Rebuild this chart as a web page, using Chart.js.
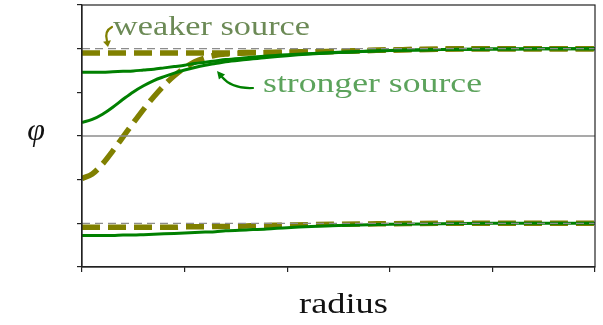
<!DOCTYPE html>
<html>
<head>
<meta charset="utf-8">
<script src="https://cdn.jsdelivr.net/npm/chart.js@4/dist/chart.umd.min.js"></script>
<style>
  html, body { margin: 0; padding: 0; background: #fff; }
  #wrap { width: 603px; height: 325px; }
</style>
</head>
<body>
<div id="wrap"><canvas id="phi" width="603" height="325"></canvas></div>
<script>
// radius samples shared by every profile
const radius = [0, 0.1, 0.2, 0.3, 0.4, 0.5, 0.6, 0.7, 0.8, 0.9, 1.0, 1.1, 1.2, 1.3, 1.4, 1.6, 1.8, 2.0, 2.5, 3.0, 3.5, 4.0, 4.5, 5.0];

// upper branch (vacuum at +2)
const weakInner = [-0.97, -0.87, -0.64, -0.34, -0.02, 0.30, 0.61, 0.90, 1.16, 1.38, 1.56, 1.70, 1.79, 1.85, 1.88, 1.90, 1.91, 1.92, 1.94, 1.97, 1.99, 2.0, 2.0, 2.0];
const weakOuter = [1.90, 1.90, 1.90, 1.90, 1.90, 1.90, 1.90, 1.90, 1.90, 1.90, 1.90, 1.90, 1.90, 1.90, 1.90, 1.91, 1.91, 1.92, 1.94, 1.97, 1.99, 2.0, 2.0, 2.0];
const strongInner = [0.31, 0.38, 0.50, 0.66, 0.84, 1.01, 1.15, 1.27, 1.36, 1.44, 1.51, 1.57, 1.62, 1.66, 1.70, 1.75, 1.80, 1.84, 1.91, 1.96, 1.98, 1.99, 2.0, 2.0];
const strongOuter = [1.46, 1.46, 1.46, 1.47, 1.48, 1.49, 1.51, 1.53, 1.56, 1.59, 1.62, 1.66, 1.69, 1.72, 1.75, 1.79, 1.83, 1.86, 1.92, 1.96, 1.98, 1.99, 2.0, 2.0];

// lower branch (vacuum at -2)
const weakLower = [-2.09, -2.09, -2.09, -2.09, -2.09, -2.09, -2.09, -2.09, -2.09, -2.09, -2.08, -2.08, -2.08, -2.07, -2.07, -2.06, -2.05, -2.04, -2.02, -2.01, -2.0, -2.0, -2.0, -2.0];
const strongLower = [-2.28, -2.28, -2.28, -2.28, -2.27, -2.27, -2.26, -2.25, -2.24, -2.23, -2.22, -2.21, -2.20, -2.19, -2.17, -2.15, -2.13, -2.10, -2.05, -2.02, -2.01, -2.0, -2.0, -2.0];

const vacua = [2, -2];
const radiusRange = [0, 5];
const phiRange = [-3, 3];

const OLIVE = '#808000';
const GREEN = '#008000';
const GREY = '#8c8c8c';

const pts = (ys) => ys.map((y, i) => ({ x: radius[i], y }));
const flat = (y) => radiusRange.map((x) => ({ x, y }));

const weakStyle = {
  borderColor: OLIVE, borderWidth: 5.5, borderDash: [18, 8],
  borderCapStyle: 'butt', order: 3
};
const strongStyle = { borderColor: GREEN, borderWidth: 3, order: 2 };

const datasets = [
  { data: flat(0), borderColor: GREY, borderWidth: 1.5, order: 1 },
  ...vacua.map((v) => ({ data: flat(v), borderColor: GREY, borderWidth: 1.3, borderDash: [8, 5], order: 1 })),
  { data: pts(weakOuter), ...weakStyle },
  { data: pts(weakInner), ...weakStyle },
  { data: pts(weakLower), ...weakStyle },
  { data: pts(strongOuter), ...strongStyle },
  { data: pts(strongInner), ...strongStyle },
  { data: pts(strongLower), ...strongStyle }
];

// draw a label stretched to a given width
function fitText(ctx, str, x, y, w, font, color) {
  ctx.save();
  ctx.font = font;
  ctx.fillStyle = color;
  ctx.textBaseline = 'alphabetic';
  const m = ctx.measureText(str).width;
  ctx.translate(x, y);
  ctx.scale(w / m, 1);
  ctx.fillText(str, 0, 0);
  ctx.restore();
}

function arrow(ctx, p0, c, p1, tip, color) {
  ctx.save();
  ctx.strokeStyle = color;
  ctx.fillStyle = color;
  ctx.lineWidth = 2.2;
  ctx.lineCap = 'round';
  ctx.beginPath();
  ctx.moveTo(p0[0], p0[1]);
  ctx.quadraticCurveTo(c[0], c[1], p1[0], p1[1]);
  ctx.stroke();
  const a = Math.atan2(tip[1] - p1[1], tip[0] - p1[0]);
  const s = 4;
  ctx.beginPath();
  ctx.moveTo(tip[0], tip[1]);
  ctx.lineTo(p1[0] - Math.sin(a) * s, p1[1] + Math.cos(a) * s);
  ctx.lineTo(p1[0] + Math.sin(a) * s, p1[1] - Math.cos(a) * s);
  ctx.closePath();
  ctx.fill();
  ctx.restore();
}

const annotations = {
  id: 'annotations',
  afterDraw(chart) {
    const { ctx, chartArea: a } = chart;
    // closing frame on top / right
    ctx.save();
    ctx.strokeStyle = '#222';
    ctx.lineWidth = 1.2;
    ctx.strokeRect(a.left, a.top, a.right - a.left, a.bottom - a.top);
    ctx.restore();

    const serif = '"Liberation Serif", "DejaVu Serif", serif';
    fitText(ctx, 'weaker source', 113, 35, 197, '27px ' + serif, '#6c8a56');
    fitText(ctx, 'stronger source', 263, 92, 219, '27px ' + serif, '#5ca35c');
    arrow(ctx, [112, 27], [104, 31], [107, 41], [108, 47], OLIVE);
    arrow(ctx, [253, 88], [232, 89], [222, 77], [217, 71], GREEN);

    ctx.save();
    ctx.font = 'italic 32px ' + serif;
    ctx.fillStyle = '#111';
    ctx.textAlign = 'center';
    ctx.fillText('φ', 36, 140);
    ctx.restore();

    fitText(ctx, 'radius', 299, 313, 89, '29px ' + serif, '#111');
  }
};

const axisGrid = {
  drawOnChartArea: false, drawTicks: true, tickLength: 5,
  color: '#222', lineWidth: 1.2
};

new Chart(document.getElementById('phi'), {
  type: 'line',
  data: { datasets },
  options: {
    responsive: false,
    animation: false,
    devicePixelRatio: 1,
    layout: { padding: { left: 77, right: 8, top: 5, bottom: 53 } },
    elements: {
      point: { radius: 0 },
      line: { cubicInterpolationMode: 'monotone', fill: false }
    },
    plugins: { legend: { display: false }, tooltip: { enabled: false } },
    scales: {
      x: {
        type: 'linear', min: radiusRange[0], max: radiusRange[1],
        ticks: { display: false, stepSize: 1 },
        grid: axisGrid,
        border: { color: '#222', width: 1.2 }
      },
      y: {
        type: 'linear', min: phiRange[0], max: phiRange[1],
        ticks: { display: false, stepSize: 1 },
        grid: axisGrid,
        border: { color: '#222', width: 1.2 }
      }
    }
  },
  plugins: [annotations]
});
</script>
</body>
</html>
